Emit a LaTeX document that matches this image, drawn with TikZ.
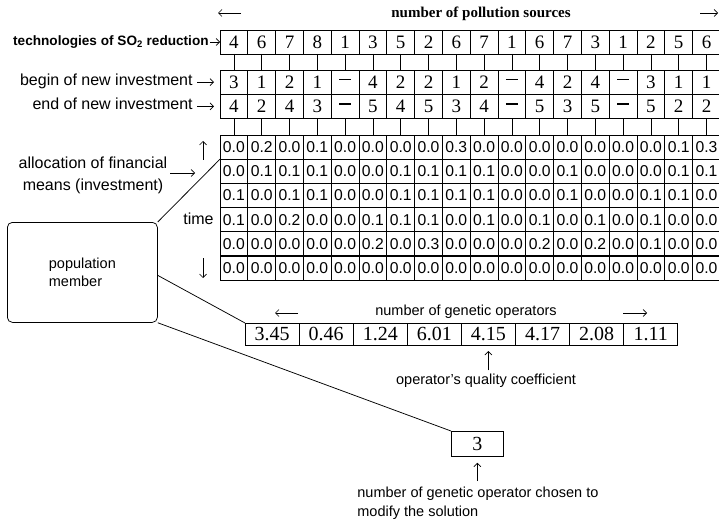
\documentclass[tikz,border=0pt]{standalone}
\usepackage{fontspec}
\setmainfont{Liberation Serif}
\setsansfont{Liberation Sans}
\usetikzlibrary{arrows.meta}
\newcommand{\dsh}{\rule[4.5pt]{12pt}{1.1pt}}
\begin{document}
\begin{tikzpicture}[x=1pt,y=-1pt,line width=0.75pt,
  arr/.style={-{Straight Barb[length=3.5pt,width=7pt]},line width=0.7pt},
  cell/.style={draw,anchor=north west,inner sep=0pt,outer sep=0pt,minimum width=27.8pt,minimum height=24.2pt},
  dig/.style={font=\fontsize{19}{19}\selectfont},
  mval/.style={font=\sffamily\fontsize{15.7}{15.7}\selectfont},
  gval/.style={draw,anchor=north west,inner sep=0pt,outer sep=0pt,minimum width=54.1pt,minimum height=22pt,font=\fontsize{20}{20}\selectfont},
  lbl/.style={font=\sffamily\fontsize{16}{22}\selectfont,inner sep=0pt},
  slbl/.style={font=\sffamily\fontsize{14.5}{19}\selectfont,inner sep=0pt},
]
\useasboundingbox (0,0) rectangle (719,521);

% header
\node[font=\bfseries\fontsize{15}{15}\selectfont,inner sep=0pt,anchor=mid] (hdr) at (481,15) {number of pollution sources};
\coordinate (hla) at (241,13); \coordinate (hlb) at (218,13);
\draw[arr] (hla) -- (hlb);
\coordinate (hra) at (700,13); \coordinate (hrb) at (718,13);
\draw[arr] (hra) -- (hrb);

% technologies row
\foreach \v [count=\i] in {4,6,7,8,1,3,5,2,6,7,1,6,7,3,1,2,5,6}
  \node[cell,dig,minimum height=24pt] (t\i) at ({220+27.8*(\i-1)},30) {\v};
% begin row
\foreach \v [count=\i] in {3,1,2,1,\dsh,4,2,2,1,2,\dsh,4,2,4,\dsh,3,1,1}
  \node[cell,dig] (b\i) at ({220+27.8*(\i-1)},70) {\v};
% end row
\foreach \v [count=\i] in {4,2,4,3,\dsh,5,4,5,3,4,\dsh,5,3,5,\dsh,5,2,2}
  \node[cell,dig] (e\i) at ({220+27.8*(\i-1)},94.2) {\v};

% matrix
\foreach \rowvals [count=\r] in {
  {0.0,0.2,0.0,0.1,0.0,0.0,0.0,0.0,0.3,0.0,0.0,0.0,0.0,0.0,0.0,0.0,0.1,0.3},
  {0.0,0.1,0.1,0.1,0.0,0.0,0.1,0.1,0.1,0.1,0.0,0.0,0.1,0.0,0.0,0.0,0.1,0.1},
  {0.1,0.0,0.1,0.1,0.0,0.0,0.1,0.1,0.1,0.1,0.0,0.0,0.1,0.0,0.0,0.1,0.1,0.0},
  {0.1,0.0,0.2,0.0,0.0,0.1,0.1,0.1,0.0,0.1,0.0,0.1,0.0,0.1,0.0,0.1,0.0,0.0},
  {0.0,0.0,0.0,0.0,0.0,0.2,0.0,0.3,0.0,0.0,0.0,0.2,0.0,0.2,0.0,0.1,0.0,0.0},
  {0.0,0.0,0.0,0.0,0.0,0.0,0.0,0.0,0.0,0.0,0.0,0.0,0.0,0.0,0.0,0.0,0.0,0.0}}{
  \foreach \v [count=\c] in \rowvals {
    \node[cell,mval] (m\r-\c) at ({220+27.8*(\c-1)},{135+24.17*(\r-1)}) {\v};
  }
}

% brick connectors
\foreach \i in {1,...,18} {
  \draw (t\i.south) -- (b\i.north);
  \draw (e\i.south) -- (m1-\i.north);
}

% left labels
\node[font=\sffamily\bfseries\fontsize{13.6}{16}\selectfont,inner sep=0pt,anchor=mid east] (techlbl) at (209,43) {technologies of SO\textsubscript{2} reduction};
\draw[arr,shorten <=1pt] (techlbl.east |- t1.west) -- (t1.west);
\node[lbl,anchor=mid east] (beglbl) at (193,83) {begin of new investment};
\draw[arr,shorten <=4pt,shorten >=6pt] (beglbl.east |- b1.west) -- (b1.west);
\node[lbl,anchor=mid east] (endlbl) at (193,107) {end of new investment};
\draw[arr,shorten <=4pt,shorten >=6pt] (endlbl.east |- e1.west) -- (e1.west);

\node[lbl,align=center] (alloc) at (93,175) {allocation of financial\\means (investment)};
\coordinate (alla) at (170,173); \coordinate (allb) at (195,173);
\draw[arr] (alla) -- (allb);
\coordinate (upa) at (203,160); \coordinate (upb) at (203,141);
\draw[arr] (upa) -- (upb);
\coordinate (dna) at (203,258); \coordinate (dnb) at (203,278);
\draw[arr] (dna) -- (dnb);
\node[lbl,anchor=mid east] (time) at (214,222) {time};

% population member
\node[draw,rounded corners=5pt,anchor=north west,minimum width=150pt,minimum height=100pt,align=left,
      font=\sffamily\fontsize{14.5}{18}\selectfont] (pop) at (7,222) {population\\member};

% genetic operators
\foreach \v [count=\i] in {3.45,0.46,1.24,6.01,4.15,4.17,2.08,1.11}
  \node[gval] (g\i) at ({245+54.1*(\i-1)},323) {\v};
\node[slbl,anchor=mid] (genhdr) at (466,313) {number of genetic operators};
\coordinate (gla) at (298,313); \coordinate (glb) at (275,313);
\draw[arr] (gla) -- (glb);
\coordinate (gra) at (623,313); \coordinate (grb) at (647,313);
\draw[arr] (gra) -- (grb);
\node[slbl,anchor=mid] (qc) at (486,382) {operator's quality coefficient};
\draw[arr,shorten <=3pt,shorten >=6pt] (g5.south |- qc.north) -- (g5.south);

% selected operator
\node[draw,anchor=north west,inner sep=0pt,minimum width=52pt,minimum height=25pt,font=\fontsize{20}{20}\selectfont] (sel) at (451,431) {3};
\node[slbl,align=left,anchor=north west] (chosen) at (357,487) {number of genetic operator chosen to\\modify the solution};
\draw[arr,shorten <=6pt,shorten >=6pt] (sel.south |- chosen.north) -- (sel.south);

% connecting lines
\draw (pop.north east) -- (m2-1.north west);
\draw ([yshift=-3pt]pop.east) -- (g1.north west);
\draw (pop.south east) -- (sel.north west);
\end{tikzpicture}
\end{document}
